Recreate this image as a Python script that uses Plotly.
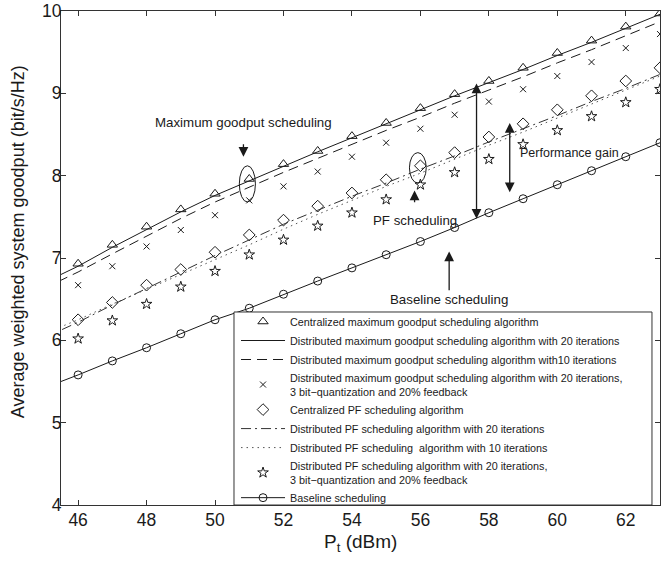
import plotly.graph_objects as go

# ---- data ----
x_line = [45, 46, 47, 48, 49, 50, 51, 52, 53, 54, 55, 56, 57, 58, 59, 60, 61, 62, 63]
x_mark = [46, 47, 48, 49, 50, 51, 52, 53, 54, 55, 56, 57, 58, 59, 60, 61, 62, 63]

central_max = [6.93, 7.16, 7.38, 7.59, 7.78, 7.96, 8.14, 8.30, 8.48, 8.64, 8.82, 8.99, 9.15, 9.31, 9.49, 9.64, 9.81, 9.97]
dist_max_20 = [6.70, 6.90, 7.13, 7.35, 7.56, 7.76, 7.94, 8.12, 8.29, 8.46, 8.63, 8.80, 8.97, 9.13, 9.29, 9.46, 9.62, 9.79, 9.96]
dist_max_10 = [6.63, 6.83, 7.05, 7.27, 7.48, 7.68, 7.86, 8.04, 8.21, 8.38, 8.55, 8.71, 8.88, 9.04, 9.20, 9.37, 9.53, 9.70, 9.87]
dist_max_q = [6.67, 6.90, 7.14, 7.34, 7.52, 7.70, 7.87, 8.05, 8.23, 8.40, 8.57, 8.74, 8.90, 9.05, 9.21, 9.38, 9.55, 9.72]
central_pf = [6.25, 6.46, 6.67, 6.86, 7.07, 7.28, 7.46, 7.63, 7.79, 7.95, 8.12, 8.28, 8.47, 8.63, 8.80, 8.97, 9.15, 9.31]
dist_pf_20 = [6.03, 6.22, 6.43, 6.63, 6.83, 7.03, 7.22, 7.41, 7.58, 7.75, 7.91, 8.08, 8.24, 8.41, 8.57, 8.73, 8.90, 9.06, 9.23]
dist_pf_10 = [6.08, 6.25, 6.44, 6.62, 6.80, 6.98, 7.16, 7.35, 7.53, 7.70, 7.87, 8.03, 8.20, 8.37, 8.53, 8.70, 8.87, 9.04, 9.21]
dist_pf_q = [6.02, 6.24, 6.44, 6.65, 6.84, 7.04, 7.22, 7.39, 7.55, 7.71, 7.89, 8.04, 8.20, 8.38, 8.55, 8.72, 8.89, 9.05]
baseline = [5.42, 5.58, 5.75, 5.91, 6.08, 6.25, 6.39, 6.56, 6.72, 6.88, 7.04, 7.20, 7.37, 7.55, 7.72, 7.89, 8.06, 8.23, 8.40]

x_ticks = [46, 48, 50, 52, 54, 56, 58, 60, 62]
y_ticks = [4, 5, 6, 7, 8, 9, 10]

names = [
    "Centralized maximum goodput scheduling algorithm",
    "Distributed maximum goodput scheduling algorithm with 20 iterations",
    "Distributed maximum goodput scheduling algorithm with10 iterations",
    "Distributed maximum goodput scheduling algorithm with 20 iterations,<br>3 bit\u2212quantization and 20% feedback",
    "Centralized PF scheduling algorithm",
    "Distributed PF scheduling algorithm with 20 iterations",
    "Distributed PF scheduling  algorithm with 10 iterations",
    "Distributed PF scheduling algorithm with 20 iterations,<br>3 bit\u2212quantization and 20% feedback",
    "Baseline scheduling",
]

K = "#1a1a1a"
FONT = "Liberation Sans, Arial, sans-serif"
fig = go.Figure()
fig.add_trace(go.Scatter(x=x_mark, y=central_max, mode="markers", name=names[0],
                         marker=dict(symbol="triangle-up-open", size=9, color=K, line=dict(width=1))))
fig.add_trace(go.Scatter(x=x_line, y=dist_max_20, mode="lines", name=names[1],
                         line=dict(color=K, width=1)))
fig.add_trace(go.Scatter(x=x_line, y=dist_max_10, mode="lines", name=names[2],
                         line=dict(color=K, width=1, dash="10px,6px")))
fig.add_trace(go.Scatter(x=x_mark, y=dist_max_q, mode="markers", name=names[3],
                         marker=dict(symbol="x-thin-open", size=6, color=K, line=dict(width=1, color=K))))
fig.add_trace(go.Scatter(x=x_mark, y=central_pf, mode="markers", name=names[4],
                         marker=dict(symbol="diamond-open", size=9, color=K, line=dict(width=1))))
fig.add_trace(go.Scatter(x=x_line, y=dist_pf_20, mode="lines", name=names[5],
                         line=dict(color="#333333", width=1, dash="10px,4px,2px,4px")))
fig.add_trace(go.Scatter(x=x_line, y=dist_pf_10, mode="lines", name=names[6],
                         line=dict(color="#555555", width=1, dash="1.5px,4px")))
fig.add_trace(go.Scatter(x=x_mark, y=dist_pf_q, mode="markers", name=names[7],
                         marker=dict(symbol="star-open", size=8, color=K, line=dict(width=1))))
fig.add_trace(go.Scatter(x=x_line, y=baseline, mode="lines+markers", name=names[8],
                         line=dict(color=K, width=1),
                         marker=dict(symbol="circle-open", size=8, color=K, line=dict(width=1))))

# ellipses
fig.add_shape(type="circle", xref="x", yref="y", x0=50.71, x1=51.18, y0=7.68, y1=8.12,
              line=dict(color=K, width=1))
fig.add_shape(type="circle", xref="x", yref="y", x0=55.68, x1=56.17, y0=7.91, y1=8.28,
              line=dict(color=K, width=1))

# legend box (white, covers the curves underneath)
fig.add_shape(type="rect", xref="paper", yref="paper", x0=0.2888, x1=0.9866, y0=0.0, y1=0.3907,
              fillcolor="white", line=dict(color="#333333", width=1), layer="above")

tf = dict(family=FONT, size=13.3, color=K)
def arrow(x, y, ax, ay, both=False):
    fig.add_annotation(x=x, y=y, ax=ax, ay=ay, xref="x", yref="y", axref="x", ayref="y",
                       text="", showarrow=True, arrowhead=2, arrowsize=1.5, arrowwidth=1.3,
                       arrowcolor=K, arrowside="end+start" if both else "end")

arrow(50.83, 8.23, 50.83, 8.40)
arrow(55.83, 7.82, 55.83, 7.66)
arrow(56.84, 7.08, 56.84, 6.59)
arrow(57.64, 9.12, 57.64, 7.46, both=True)
arrow(58.61, 8.64, 58.61, 7.78, both=True)

fig.add_annotation(x=50.83, y=8.65, xref="x", yref="y", text="Maximum goodput scheduling",
                   showarrow=False, font=tf)
fig.add_annotation(x=55.83, y=7.46, xref="x", yref="y", text="PF scheduling",
                   showarrow=False, font=tf)
fig.add_annotation(x=56.83, y=6.50, xref="x", yref="y", text="Baseline scheduling",
                   showarrow=False, font=tf)
fig.add_annotation(x=58.85, y=8.27, xref="x", yref="y", text="Performance gain",
                   showarrow=False, xanchor="left", font=dict(tf, size=12.5))

# axis titles (placed as annotations for exact positioning)
fig.add_annotation(x=0.5, y=-0.077, xref="paper", yref="paper", text="P<sub>t</sub> (dBm)",
                   showarrow=False, yanchor="middle", font=dict(family=FONT, size=19, color=K))
fig.add_annotation(x=-0.0918, y=0.532, xref="paper", yref="paper",
                   text="Average weighted system goodput (bit/s/Hz)", textangle=-90,
                   showarrow=False, font=dict(family=FONT, size=18, color=K))

axis_common = dict(showline=True, linecolor="#333333", linewidth=1, mirror="ticks",
                   ticks="inside", ticklen=5, tickcolor="#333333", showgrid=False, zeroline=False,
                   automargin=False,
                   tickfont=dict(family=FONT, size=17.5, color=K))
fig.update_xaxes(range=[45.5, 63], tickvals=x_ticks, ticktext=[str(v) for v in x_ticks],
                 ticklabelstandoff=-1, **axis_common)
fig.update_yaxes(range=[4, 10], tickvals=y_ticks, ticktext=[str(v) for v in y_ticks],
                 ticklabelstandoff=-5, **axis_common)

fig.update_layout(
    width=662, height=561,
    margin=dict(l=61, r=2, t=11, b=56),
    plot_bgcolor="white", paper_bgcolor="white",
    showlegend=True,
    legend=dict(x=0.2922, y=0.4008, xanchor="left", yanchor="top",
                orientation="h", entrywidth=362, entrywidthmode="pixels",
                bgcolor="rgba(0,0,0,0)", borderwidth=0,
                font=dict(family=FONT, size=10.8, color=K),
                tracegroupgap=0, itemwidth=44),
)

fig.write_html("out.html", post_script="document.body.style.margin='0';",
               config={"displayModeBar": False})
